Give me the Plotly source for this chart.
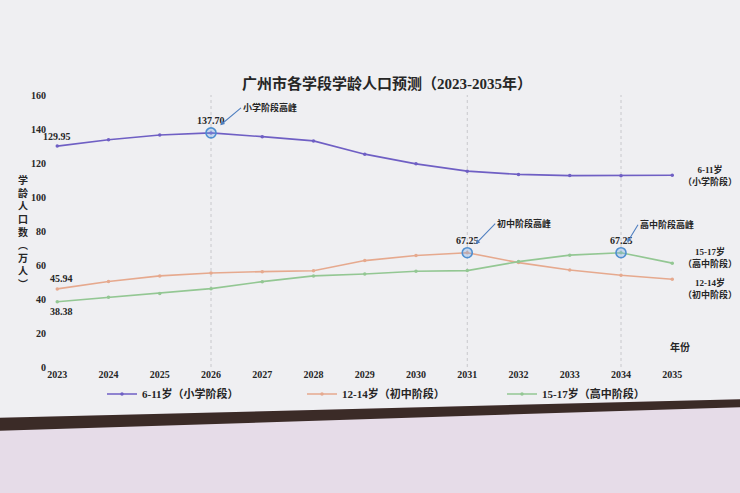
import plotly.graph_objects as go

years = list(range(2023, 2036))
primary_6_11 = [129.95, 133.7, 136.5, 137.70, 135.5, 133.0, 125.2, 119.5, 115.2, 113.3, 112.6, 112.5, 112.8]
junior_12_14 = [45.94, 50.3, 53.6, 55.3, 56.1, 56.6, 62.6, 65.6, 67.25, 61.4, 57.1, 54.0, 51.6]
senior_15_17 = [38.38, 41.0, 43.3, 46.1, 50.2, 53.6, 54.7, 56.3, 56.7, 62.0, 65.8, 67.25, 61.1]

series_names = ["6-11岁（小学阶段）", "12-14岁（初中阶段）", "15-17岁（高中阶段）"]
end_labels = ["6-11岁<br>（小学阶段）", "12-14岁<br>（初中阶段）", "15-17岁<br>（高中阶段）"]
peak_labels = ["小学阶段高峰", "初中阶段高峰", "高中阶段高峰"]
y_ticks = [0, 20, 40, 60, 80, 100, 120, 140, 160]
title = "广州市各学段学龄人口预测（2023-2035年）"
y_title_chars = ["学", "龄", "人", "口", "数", "︵", "万", "人", "︶"]
x_title = "年份"

colors = ["#6f5fc4", "#e6a98e", "#93c793"]
peak_ring = "#4f8fd0"
FONT = "Liberation Serif, DejaVu Serif, Noto Sans CJK SC"
TXT = "#262626"


def f(size):
    return dict(family=FONT, size=size, color=TXT, weight="bold")


W, H = 740, 493
L, R, T, B = 47, 37, 95, 126
PW, PH = W - L - R, H - T - B


def px(x):
    return (x - L) / PW


def py(y):
    return (H - B - y) / PH


fig = go.Figure()

data = [primary_6_11, junior_12_14, senior_15_17]
for name, vals, c in zip(series_names, data, colors):
    fig.add_trace(go.Scatter(
        x=years, y=vals, mode="lines+markers", name=name,
        line=dict(color=c, width=1.6),
        marker=dict(size=3.5, color=c),
    ))

# peaks
peak_idx = [vals.index(max(vals)) for vals in data]
arrow_off = [(30, -25), (28, -29), (17, -28)]
for k, (vals, i) in enumerate(zip(data, peak_idx)):
    fig.add_shape(type="line", x0=years[i], x1=years[i], y0=0, y1=160,
                  xref="x", yref="y", line=dict(color="#c8c8cc", width=1, dash="dot"),
                  layer="below")
    fig.add_trace(go.Scatter(
        x=[years[i]], y=[vals[i]], mode="markers", showlegend=False, hoverinfo="skip",
        marker=dict(size=10, color="rgba(120,170,230,0.35)", line=dict(color=peak_ring, width=1.6)),
    ))
    fig.add_annotation(x=years[i], y=vals[i], text=f"{vals[i]:.2f}", showarrow=False,
                       yshift=12, font=f(10))
    fig.add_annotation(x=years[i], y=vals[i], text=peak_labels[k], showarrow=True,
                       arrowhead=2, arrowsize=0.8, arrowwidth=1.1, arrowcolor="#4f7fc0",
                       ax=arrow_off[k][0], ay=arrow_off[k][1], standoff=12,
                       xanchor="left", font=f(9))

# start labels
fig.add_annotation(x=years[0], y=primary_6_11[0], text=f"{primary_6_11[0]:.2f}", showarrow=False,
                   yshift=10, xshift=0, font=f(10))
fig.add_annotation(x=years[0], y=junior_12_14[0], text=f"{junior_12_14[0]:.2f}", showarrow=False,
                   yshift=10, xshift=4, font=f(10))
fig.add_annotation(x=years[0], y=senior_15_17[0], text=f"{senior_15_17[0]:.2f}", showarrow=False,
                   yshift=-10, xshift=4, font=f(10))

# end labels
end_shift = [0, -9, 6]
for vals, lab, ys in zip(data, end_labels, end_shift):
    fig.add_annotation(x=years[-1], y=vals[-1], text=lab, showarrow=False, xanchor="center",
                       xshift=38, yshift=ys, align="center", font=f(9))

# axis titles
fig.add_annotation(xref="paper", yref="paper", x=px(16), y=py(232),
                   text="<br>".join(y_title_chars), showarrow=False, font=f(10))
fig.add_annotation(xref="paper", yref="paper", x=px(692), y=py(355), text=x_title,
                   showarrow=False, font=f(10))

# screen edge and floor (photo surroundings)
fig.add_shape(type="path", xref="paper", yref="paper", layer="below",
              path=f"M {px(-5)} {py(418)} L {px(745)} {py(399)} L {px(745)} {py(500)} L {px(-5)} {py(500)} Z",
              fillcolor="#e6dce8", line=dict(width=0))
fig.add_shape(type="path", xref="paper", yref="paper", layer="below",
              path=f"M {px(-5)} {py(418)} L {px(745)} {py(399)} L {px(745)} {py(407)} L {px(-5)} {py(431)} Z",
              fillcolor="#3b2b27", line=dict(width=0))

fig.update_layout(
    width=W, height=H,
    margin=dict(l=L, r=R, t=T, b=B),
    paper_bgcolor="#efeff2",
    plot_bgcolor="rgba(0,0,0,0)",
    title=dict(text=title, x=px(390), xanchor="center", y=1 - 84 / H, yanchor="middle",
               font=f(15)),
    font=dict(family=FONT, color=TXT),
    showlegend=True,
    legend=dict(orientation="h", x=px(102), xanchor="left", y=py(394), yanchor="middle",
                font=f(11), entrywidth=155, entrywidthmode="pixels",
                bgcolor="rgba(0,0,0,0)", traceorder="normal"),
    xaxis=dict(range=[2022.8, 2035.6], tickvals=years, ticktext=[str(y) for y in years],
               showgrid=False, zeroline=False, showline=False, ticks="",
               tickfont=f(10), fixedrange=True),
    yaxis=dict(range=[0, 160], tickvals=y_ticks, showgrid=False, zeroline=False,
               showline=False, ticks="", tickfont=f(10), fixedrange=True),
)

fig.write_html("out.html", config={"displayModeBar": False, "responsive": False},
               post_script="document.body.style.margin='0';document.body.style.overflow='hidden';")
